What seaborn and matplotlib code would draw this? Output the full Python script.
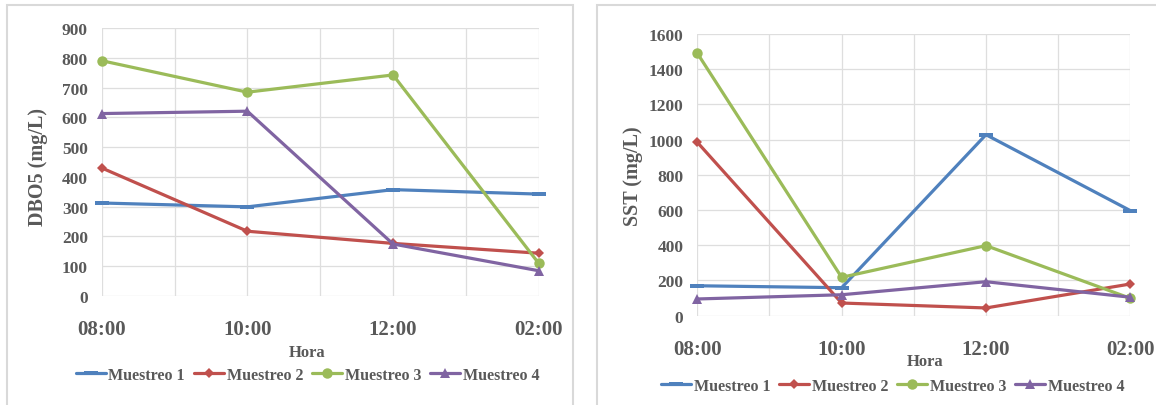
import matplotlib
matplotlib.use("Agg")
import matplotlib.pyplot as plt
import seaborn as sns
import pandas as pd
from matplotlib.patches import Rectangle
from matplotlib.ticker import MultipleLocator
from matplotlib.path import Path

# Sampling hours
horas = ["08:00", "10:00", "12:00", "02:00"]
series = ["Muestreo 1", "Muestreo 2", "Muestreo 3", "Muestreo 4"]

# DBO5 (mg/L) per sampling campaign
dbo5_m1 = [312, 299, 357, 342]
dbo5_m2 = [430, 217, 176, 143]
dbo5_m3 = [791, 685, 743, 109]
dbo5_m4 = [613, 621, 174, 84]

# SST (mg/L) per sampling campaign
sst_m1 = [170, 159, 1028, 597]
sst_m2 = [985, 72, 44, 180]
sst_m3 = [1491, 218, 398, 99]
sst_m4 = [95, 119, 193, 105]

sns.set_theme(style="white")
plt.rcParams["font.family"] = ["Liberation Serif", "DejaVu Serif"]
plt.rcParams["font.weight"] = "bold"

TXT = "#595959"
GRID = "#dedede"
colors = {"Muestreo 1": "#4F81BD", "Muestreo 2": "#C0504D",
          "Muestreo 3": "#9BBB59", "Muestreo 4": "#8064A2"}
dash = Path([(-0.5, -0.16), (0.5, -0.16), (0.5, 0.16), (-0.5, 0.16), (-0.5, -0.16)],
            [Path.MOVETO, Path.LINETO, Path.LINETO, Path.LINETO, Path.CLOSEPOLY])
markers = {"Muestreo 1": (dash, 10), "Muestreo 2": ("D", 5.5),
           "Muestreo 3": ("o", 7.5), "Muestreo 4": ("^", 7)}


def long_table(values):
    rows = []
    for s, vals in zip(series, values):
        for h, v in zip(horas, vals):
            rows.append({"Hora": h, "valor": v, "serie": s})
    return pd.DataFrame(rows)


df_dbo = long_table([dbo5_m1, dbo5_m2, dbo5_m3, dbo5_m4])
df_sst = long_table([sst_m1, sst_m2, sst_m3, sst_m4])

W, H = 1156, 406
fig = plt.figure(figsize=(W / 100, H / 100), dpi=100)

# panel frames
for x0, x1 in [(7, 573), (597, 1170)]:
    fig.patches.append(Rectangle((x0 / W, -0.05), (x1 - x0) / W, (H - 6) / H + 0.05,
                                 transform=fig.transFigure, facecolor="none",
                                 edgecolor="#d9d9d9", linewidth=1.5, zorder=-1))


def px_axes(x0, x1, ytop, ybot):
    return fig.add_axes([x0 / W, (H - ybot) / H, (x1 - x0) / W, (ybot - ytop) / H])


ax1 = px_axes(101.7, 538.7, 29.3, 296.7)
ax2 = px_axes(697.3, 1130.3, 35.0, 316.7)


def draw(ax, df, ymax, ystep, ylabel, ylab_xy, xlab_xy):
    ax.set_facecolor("none")
    for s in series:
        sub = df[df["serie"] == s]
        m, ms = markers[s]
        sns.lineplot(data=sub, x="Hora", y="valor", ax=ax, color=colors[s],
                     marker=m, markersize=ms, markeredgewidth=0,
                     linewidth=2.3, label=s, clip_on=False, sort=False)
    ax.set_xlim(0, 3)
    ax.set_ylim(0, ymax)
    ax.set_yticks(range(0, ymax + 1, ystep))
    ax.xaxis.set_minor_locator(MultipleLocator(0.5))
    ax.grid(True, which="both", color=GRID, linewidth=0.9)
    ax.set_axisbelow(True)
    for sp in ax.spines.values():
        sp.set_visible(False)
    ax.tick_params(axis="x", which="major", length=4, color=GRID, pad=13,
                   labelsize=15, labelcolor=TXT)
    ax.tick_params(axis="x", which="minor", length=0)
    ax.tick_params(axis="y", length=0, pad=10, labelsize=12.5, labelcolor=TXT)
    for t in ax.get_xticklabels() + ax.get_yticklabels():
        t.set_fontweight("bold")
    ax.set_ylabel(ylabel, fontsize=14.5, fontweight="bold", color=TXT, va="center")
    ax.yaxis.set_label_coords(*ylab_xy)
    ax.set_xlabel("Hora", fontsize=12, fontweight="bold", color=TXT, va="center")
    ax.xaxis.set_label_coords(*xlab_xy)
    handles, labels = ax.get_legend_handles_labels()
    ax.get_legend().remove()
    return handles, labels


h1, l1 = draw(ax1, df_dbo, 900, 100, "DBO5 (mg/L)", (-0.146, 0.485), (0.469, -0.21))
h2, l2 = draw(ax2, df_sst, 1600, 200, "SST (mg/L)", (-0.149, 0.5), (0.525, -0.161))

for handles, labels, cx, cy in [(h1, l1, 307.4, 376), (h2, l2, 892.5, 387)]:
    fig.legend(handles, labels, loc="center", bbox_to_anchor=(cx / W, (H - cy) / H),
               ncol=4, frameon=False, handlelength=1.9, handletextpad=0.15,
               columnspacing=0.55, borderaxespad=0, borderpad=0,
               prop={"family": "Liberation Serif", "weight": "bold", "size": 11.5},
               labelcolor=TXT)

fig.savefig("out.png", dpi=100)
